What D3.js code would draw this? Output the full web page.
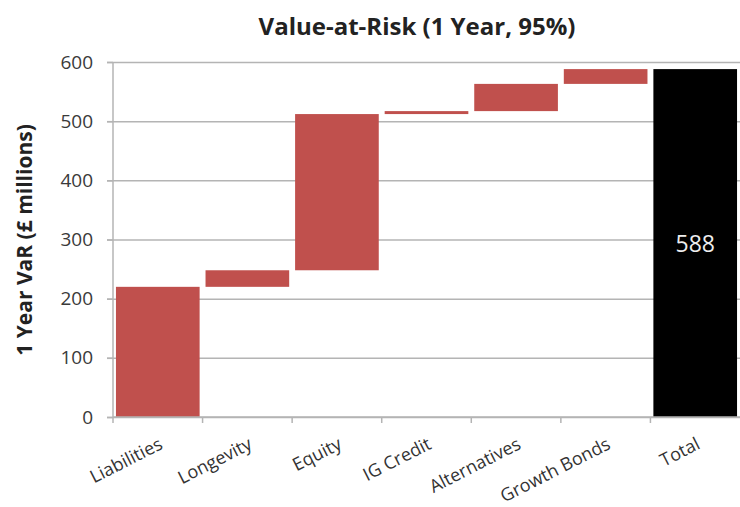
<!DOCTYPE html>
<html>
  <head>
    <script src="https://d3js.org/d3.v7.min.js"></script>
    <style>
      body { margin: 0; background: #fff; }
      text { font-family: "Open Sans", "Liberation Sans", sans-serif; }
    </style>
  </head>
  <body>
    <svg id="chart" width="740" height="507"></svg>
    <script>
      // waterfall data (£ millions)
      const categories = ["Liabilities", "Longevity", "Equity", "IG Credit", "Alternatives", "Growth Bonds", "Total"];
      const increments = [220, 28, 264, 5, 46, 25];
      const totalValue = 588;
      const yTicks = [0, 100, 200, 300, 400, 500, 600];

      const svg = d3.select("#chart");
      const margins = {top: 62, right: 0, bottom: 90, left: 113};
      const width = 740 - margins.left - margins.right;
      const height = 507 - margins.top - margins.bottom;
      const g = svg.append("g").attr("transform", `translate(${margins.left},${margins.top})`);

      // running start/end for each step
      let running = 0;
      const steps = increments.map((v, i) => {
        const s = {name: categories[i], start: running, end: running + v};
        running += v;
        return s;
      });
      steps.push({name: categories[6], start: 0, end: totalValue, total: true});

      const xScale = d3.scaleBand().domain(categories).range([0, width]).paddingInner(0.066).paddingOuter(0.033);
      const yScale = d3.scaleLinear().domain([0, 600]).range([height, 0]);

      // gridlines
      g.append("g")
        .call(d3.axisLeft(yScale).tickValues(yTicks).tickSize(-width - 6).tickFormat(""))
        .attr("transform", "translate(-6,0)")
        .call(a => a.select(".domain").remove())
        .selectAll("line").attr("stroke", "#b4b4b4").attr("stroke-width", 1.5);

      // bars
      g.selectAll("rect.bar").data(steps)
        .join("rect")
        .attr("class", "bar")
        .attr("x", d => xScale(d.name))
        .attr("width", xScale.bandwidth())
        .attr("y", d => yScale(d.end))
        .attr("height", d => yScale(d.start) - yScale(d.end))
        .attr("fill", d => d.total ? "#000000" : "#c0504d");

      // y axis
      const leftAxis = g.append("g")
        .call(d3.axisLeft(yScale).tickValues(yTicks).tickSize(6).tickPadding(14));
      leftAxis.select(".domain").attr("stroke", "#b4b4b4").attr("stroke-width", 1.5).attr("d", `M0,0V${height}`);
      leftAxis.selectAll("line").attr("stroke", "#b4b4b4").attr("stroke-width", 1.5);
      leftAxis.selectAll("text").attr("font-size", 19).attr("fill", "#3a3a3a");

      // x axis with ticks between categories
      g.append("line")
        .attr("x1", 0).attr("x2", width)
        .attr("y1", height).attr("y2", height)
        .attr("stroke", "#b4b4b4").attr("stroke-width", 1.5);
      const step = xScale.step();
      g.selectAll("line.xtick").data(d3.range(categories.length))
        .join("line")
        .attr("class", "xtick")
        .attr("x1", i => xScale(categories[i]) - step * 0.033)
        .attr("x2", i => xScale(categories[i]) - step * 0.033)
        .attr("y1", height).attr("y2", height + 6)
        .attr("stroke", "#b4b4b4").attr("stroke-width", 1.5);

      g.selectAll("text.xlabel").data(categories)
        .join("text")
        .attr("class", "xlabel")
        .attr("text-anchor", "end")
        .attr("font-size", 18)
        .attr("fill", "#333")
        .attr("transform", d => `translate(${xScale(d) + xScale.bandwidth() / 2 + 6},${height + 31}) rotate(-27)`)
        .text(d => d);

      // total label
      g.append("text")
        .attr("x", xScale("Total") + xScale.bandwidth() / 2)
        .attr("y", yScale(totalValue / 2) + 9)
        .attr("text-anchor", "middle")
        .attr("font-size", 23)
        .attr("fill", "#eeeeee")
        .text(totalValue);

      // title
      svg.append("text")
        .attr("x", 417).attr("y", 35)
        .attr("text-anchor", "middle")
        .attr("font-size", 24)
        .attr("font-weight", "bold")
        .attr("fill", "#222")
        .text("Value-at-Risk (1 Year, 95%)");

      // y title
      svg.append("text")
        .attr("transform", `translate(32,240) rotate(-90)`)
        .attr("text-anchor", "middle")
        .attr("font-size", 21)
        .attr("font-weight", "bold")
        .attr("fill", "#222")
        .text("1 Year VaR (£ millions)");
    </script>
  </body>
</html>
